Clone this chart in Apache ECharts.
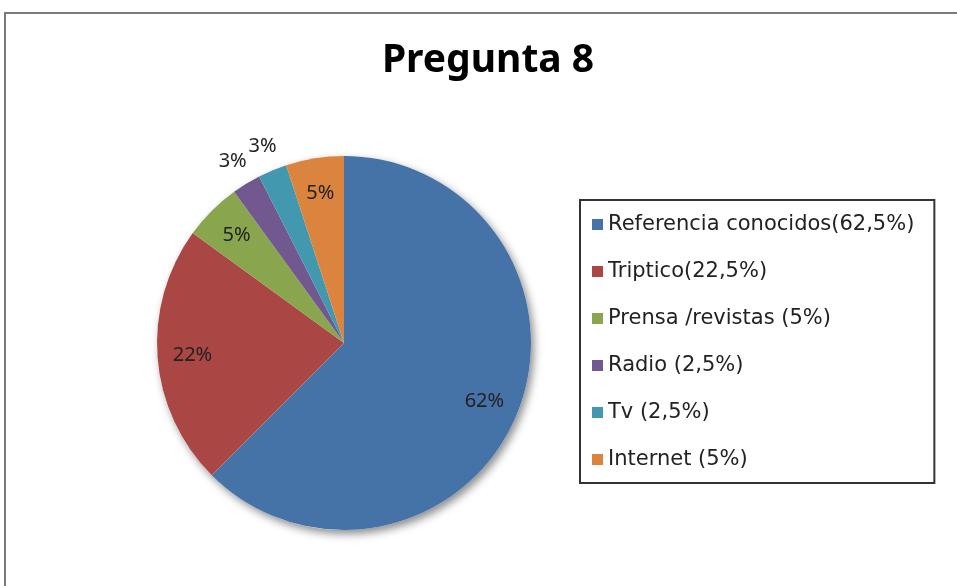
<!DOCTYPE html>
<html>
<head>
<meta charset="utf-8">
<script src="https://cdn.jsdelivr.net/npm/echarts@6/dist/echarts.min.js"></script>
<style>
  html, body { margin: 0; padding: 0; background: #fff; }
  #main { width: 957px; height: 586px; }
</style>
</head>
<body>
<div id="main"></div>
<script>
// Pregunta 8 - pie chart

var categories = [
    'Referencia conocidos(62,5%)',
    'Triptico(22,5%)',
    'Prensa /revistas (5%)',
    'Radio (2,5%)',
    'Tv (2,5%)',
    'Internet (5%)'
];
var values = [62.5, 22.5, 5, 2.5, 2.5, 5];
var pctLabels = ['62%', '22%', '5%', '3%', '3%', '5%'];
var outsideIdx = [3, 4]; // small slices with label outside the pie
var colors = ['#4572A7', '#AA4643', '#89A54E', '#71588F', '#4198AF', '#DB843D'];

var myChart = echarts.init(document.getElementById('main'));

var pieData = categories.map(function (name, i) {
    return { name: name, value: values[i], itemStyle: { color: colors[i] } };
});

// transparent copies only used to place the percentage labels
function labelData(outside) {
    return categories.map(function (name, i) {
        var isOut = outsideIdx.indexOf(i) >= 0;
        return {
            name: name,
            value: values[i],
            label: { show: isOut === outside }
        };
    });
}

var labelFont = {
    fontFamily: 'Noto Sans',
    fontSize: 20,
    color: '#222'
};

var option = {
    animation: false,
    title: {
        text: 'Pregunta 8',
        left: 483,
        top: 36,
        textAlign: 'center',
        textStyle: {
            fontFamily: 'Noto Sans',
            fontWeight: 'bold',
            fontSize: 39,
            color: '#000'
        }
    },
    graphic: [{
        type: 'rect',
        shape: { x: 5, y: 13, width: 1000, height: 700 },
        style: { fill: null, stroke: '#7a7a7a', lineWidth: 2 },
        silent: true
    }],
    legend: {
        orient: 'vertical',
        left: 580,
        top: 200,
        data: categories,
        icon: 'rect',
        itemWidth: 11,
        itemHeight: 11,
        itemGap: 26,
        padding: [14, 20, 13, 12],
        borderColor: '#333',
        borderWidth: 2,
        selectedMode: false,
        textStyle: {
            fontFamily: 'DejaVu Sans',
            fontSize: 21,
            color: '#222'
        }
    },
    series: [
        {
            // shadow under the pie
            type: 'pie',
            silent: true,
            center: [344, 343],
            radius: 187,
            label: { show: false },
            itemStyle: {
                color: '#fff',
                shadowBlur: 8,
                shadowOffsetX: 3,
                shadowOffsetY: 4,
                shadowColor: 'rgba(0,0,0,0.45)'
            },
            data: [{ name: 'bg', value: 1 }],
            z: 1
        },
        {
            name: 'Pregunta 8',
            type: 'pie',
            silent: true,
            center: [344, 343],
            radius: 187,
            startAngle: 90,
            clockwise: true,
            label: { show: false },
            labelLine: { show: false },
            data: pieData,
            z: 2
        },
        {
            type: 'pie',
            silent: true,
            center: [344, 343],
            radius: 298,
            startAngle: 90,
            clockwise: true,
            itemStyle: { color: 'rgba(0,0,0,0)' },
            label: Object.assign({
                position: 'inside',
                formatter: function (p) { return pctLabels[p.dataIndex]; }
            }, labelFont),
            labelLine: { show: false },
            data: labelData(false),
            z: 3
        },
        {
            type: 'pie',
            silent: true,
            center: [344, 343],
            radius: 420,
            startAngle: 90,
            clockwise: true,
            itemStyle: { color: 'rgba(0,0,0,0)' },
            label: Object.assign({
                position: 'inside',
                formatter: function (p) { return pctLabels[p.dataIndex]; }
            }, labelFont),
            labelLine: { show: false },
            data: labelData(true),
            z: 3
        }
    ]
};

myChart.setOption(option);
</script>
</body>
</html>
